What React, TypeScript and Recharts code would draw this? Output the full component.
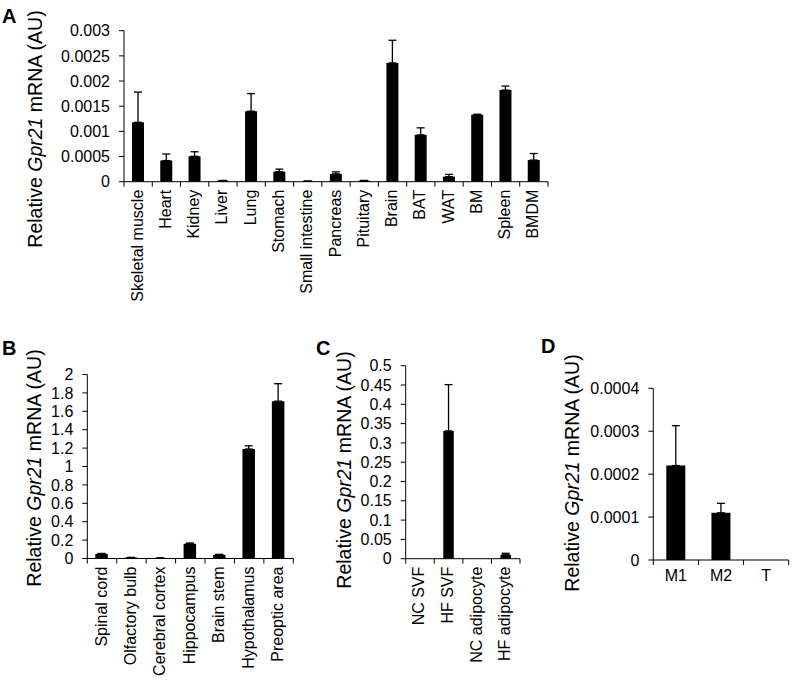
import React from 'react';
import { BarChart, Bar, XAxis, YAxis, ErrorBar } from 'recharts';

const FONT = '"Liberation Sans", Arial, Helvetica, sans-serif';
const TICK_FS = 16;

// Panel A
const aCategories = ['Skeletal muscle', 'Heart', 'Kidney', 'Liver', 'Lung', 'Stomach', 'Small intestine', 'Pancreas', 'Pituitary', 'Brain', 'BAT', 'WAT', 'BM', 'Spleen', 'BMDM'];
const aValues = [0.00118, 0.00042, 0.000505, 0.00002, 0.0014, 0.0002, 0.00001, 0.000155, 0.00002, 0.00236, 0.00093, 0.0001, 0.00133, 0.00182, 0.00043];
const aErrors = [0.0006, 0.00013, 0.00009, 0.000005, 0.00035, 0.00005, 0.000004, 0.00004, 0.000005, 0.00045, 0.00014, 0.000045, 0.00001, 0.00008, 0.00013];
const aTicks = [0, 0.0005, 0.001, 0.0015, 0.002, 0.0025, 0.003];

// Panel B
const bCategories = ['Spinal cord', 'Olfactory bulb', 'Cerebral cortex', 'Hippocampus', 'Brain stem', 'Hypothalamus', 'Preoptic area'];
const bValues = [0.05, 0.01, 0.005, 0.16, 0.04, 1.19, 1.71];
const bErrors = [0.005, 0.002, 0.001, 0.008, 0.005, 0.035, 0.19];
const bTicks = [0, 0.2, 0.4, 0.6, 0.8, 1, 1.2, 1.4, 1.6, 1.8, 2];

// Panel C
const cCategories = ['NC SVF', 'HF SVF', 'NC adipocyte', 'HF adipocyte'];
const cValues = [0, 0.331, 0, 0.01];
const cErrors = [0, 0.12, 0, 0.004];
const cTicks = [0, 0.05, 0.1, 0.15, 0.2, 0.25, 0.3, 0.35, 0.4, 0.45, 0.5];

// Panel D
const dCategories = ['M1', 'M2', 'T'];
const dValues = [0.00022, 0.00011, 0];
const dErrors = [0.000093, 0.000022, 0];
const dTicks = [0, 0.0001, 0.0002, 0.0003, 0.0004];

type PanelProps = {
  categories: string[];
  values: number[];
  errors: number[];
  ticks: number[];
  left: number;
  top: number;
  width: number;
  height: number;
  yAxisWidth: number;
  marginTop: number;
  marginRight: number;
  xAxisHeight: number;
  barSize: number;
  rotated: boolean;
  labelX: number;
  labelY: number;
};

const YLabel = ({ cx, cy }: { cx: number; cy: number }) => (
  <text
    transform={`translate(${cx},${cy}) rotate(-90)`}
    textAnchor="middle"
    dominantBaseline="central"
    fontSize={19.5}
    fontFamily={FONT}
    fill="#000"
  >
    Relative <tspan fontStyle="italic">Gpr21</tspan> mRNA (AU)
  </text>
);

const makeXTick = (band: number, n: number, rotated: boolean) => (props: any) => {
  const { x, y, payload, index } = props;
  return (
    <g>
      <line x1={x - band / 2} y1={y} x2={x - band / 2} y2={y + 5} stroke="#000" strokeWidth={1} />
      {index === n - 1 && (
        <line x1={x + band / 2} y1={y} x2={x + band / 2} y2={y + 5} stroke="#000" strokeWidth={1} />
      )}
      {rotated ? (
        <text
          transform={`translate(${x - 1},${y + 8}) rotate(-90)`}
          textAnchor="end"
          dominantBaseline="central"
          fontSize={TICK_FS}
          fontFamily={FONT}
          fill="#000"
        >
          {payload.value}
        </text>
      ) : (
        <text x={x} y={y + 15} textAnchor="middle" dominantBaseline="central" fontSize={TICK_FS} fontFamily={FONT} fill="#000">
          {payload.value}
        </text>
      )}
    </g>
  );
};

const Panel = (p: PanelProps) => {
  const data = p.categories.map((c, i) => ({ name: c, value: p.values[i], err: [0, p.errors[i]] }));
  const plotWidth = p.width - p.yAxisWidth - p.marginRight;
  const band = plotWidth / p.categories.length;
  const domainMax = p.ticks[p.ticks.length - 1];
  return (
    <div style={{ position: 'absolute', left: p.left, top: p.top, width: p.width, height: p.height }}>
      <BarChart
        width={p.width}
        height={p.height}
        data={data}
        margin={{ top: p.marginTop, right: p.marginRight, left: 0, bottom: 0 }}
        barCategoryGap={0}
      >
        <XAxis
          dataKey="name"
          type="category"
          interval={0}
          height={p.xAxisHeight}
          tickSize={0}
          tickMargin={0}
          tickLine={false}
          axisLine={{ stroke: '#000', strokeWidth: 1 }}
          tick={makeXTick(band, p.categories.length, p.rotated)}
        />
        <YAxis
          type="number"
          domain={[0, domainMax]}
          ticks={p.ticks}
          interval={0}
          width={p.yAxisWidth}
          tickSize={5}
          tickMargin={9}
          axisLine={{ stroke: '#000', strokeWidth: 1 }}
          tickLine={{ stroke: '#000', strokeWidth: 1 }}
          tick={{ fontSize: TICK_FS, fill: '#000', fontFamily: FONT }}
          label={<YLabel cx={p.labelX} cy={p.labelY} />}
        />
        <Bar dataKey="value" fill="#000" barSize={p.barSize} isAnimationActive={false}>
          <ErrorBar dataKey="err" width={4} stroke="#000" strokeWidth={1.3} direction="y" />
        </Bar>
      </BarChart>
    </div>
  );
};

const Letter = ({ x, y, children }: { x: number; y: number; children: string }) => (
  <text x={x} y={y} fontSize={20} fontWeight="bold" fontFamily={FONT} fill="#000">
    {children}
  </text>
);

export default function App() {
  return (
    <div style={{ position: 'absolute', left: 0, top: 0, width: 793, height: 681, background: '#fff', fontFamily: FONT }}>
      <Panel
        categories={aCategories}
        values={aValues}
        errors={aErrors}
        ticks={aTicks}
        left={0}
        top={0}
        width={560}
        height={330}
        yAxisWidth={124}
        marginTop={30.7}
        marginRight={12}
        xAxisHeight={148.3}
        barSize={12}
        rotated={true}
        labelX={35}
        labelY={129}
      />
      <Panel
        categories={bCategories}
        values={bValues}
        errors={bErrors}
        ticks={bTicks}
        left={0}
        top={330}
        width={300}
        height={350}
        yAxisWidth={87.3}
        marginTop={44.5}
        marginRight={6.7}
        xAxisHeight={121.5}
        barSize={12.5}
        rotated={true}
        labelX={33.5}
        labelY={138}
      />
      <Panel
        categories={cCategories}
        values={cValues}
        errors={cErrors}
        ticks={cTicks}
        left={300}
        top={330}
        width={230}
        height={350}
        yAxisWidth={105.7}
        marginTop={35.7}
        marginRight={10}
        xAxisHeight={121.3}
        barSize={10.5}
        rotated={true}
        labelX={43.5}
        labelY={140}
      />
      <Panel
        categories={dCategories}
        values={dValues}
        errors={dErrors}
        ticks={dTicks}
        left={530}
        top={330}
        width={263}
        height={350}
        yAxisWidth={123.3}
        marginTop={58.3}
        marginRight={4.3}
        xAxisHeight={120}
        barSize={19}
        rotated={false}
        labelX={42}
        labelY={143}
      />
      <svg width={793} height={681} style={{ position: 'absolute', left: 0, top: 0, pointerEvents: 'none' }}>
        <Letter x={2} y={23}>A</Letter>
        <Letter x={2} y={355}>B</Letter>
        <Letter x={316} y={355}>C</Letter>
        <Letter x={541} y={353}>D</Letter>
      </svg>
    </div>
  );
}
